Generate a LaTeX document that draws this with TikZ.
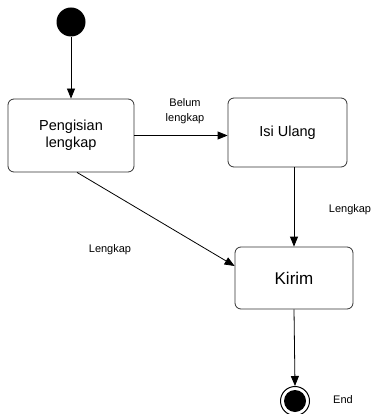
\documentclass[tikz,border=0pt]{standalone}
\usepackage{fontspec}
\setmainfont{Liberation Sans}
\usetikzlibrary{arrows.meta,calc}
\begin{document}
\begin{tikzpicture}[x=1pt,y=-1pt,
  state/.style={draw=black!80, line width=0.8pt, rounded corners=6pt, fill=white, inner sep=0pt, align=center, font=\fontsize{14.5}{17}\selectfont},
  lbl/.style={inner sep=0pt, align=center, font=\fontsize{11}{15}\selectfont},
  flow/.style={draw=black, line width=0.8pt, -{Triangle[length=10pt,width=8pt]}}]
\useasboundingbox (0,0) rectangle (372,414);
\node[circle, fill=black, minimum size=29pt, inner sep=0pt] (start) at (71,22) {};
\node[state, minimum width=126pt, minimum height=73pt] (p) at (71,135.5) {Pengisian\\lengkap};
\node[state, minimum width=119pt, minimum height=69pt] (isi) at (287.5,132.5) {Isi Ulang};
\node[state, minimum width=118pt, minimum height=62pt, font=\fontsize{17}{20}\selectfont] (kirim) at (294,278) {Kirim};
\node[circle, draw=black, line width=1pt, fill=white, minimum size=29pt, inner sep=0pt] (end) at (295,401) {};
\node[circle, fill=black, minimum size=22pt, inner sep=0pt] (endin) at (end) {};
\draw[flow] (start) -- (p.north);
\draw[flow] (p.east) -- (p.east -| isi.west);
\draw[flow] (isi.south -| kirim.north) -- (kirim.north);
\draw[flow] ([xshift=6pt]p.south) -- ([yshift=12pt]kirim.west);
\draw[flow] (kirim.south) -- (end.north);
\node[lbl] (l1) at (185,111) {Belum\\lengkap};
\node[lbl] (l2) at (350,210) {Lengkap};
\node[lbl] (l3) at (110,250) {Lengkap};
\node[lbl] (l4) at (343,400) {End};
\end{tikzpicture}
\end{document}
